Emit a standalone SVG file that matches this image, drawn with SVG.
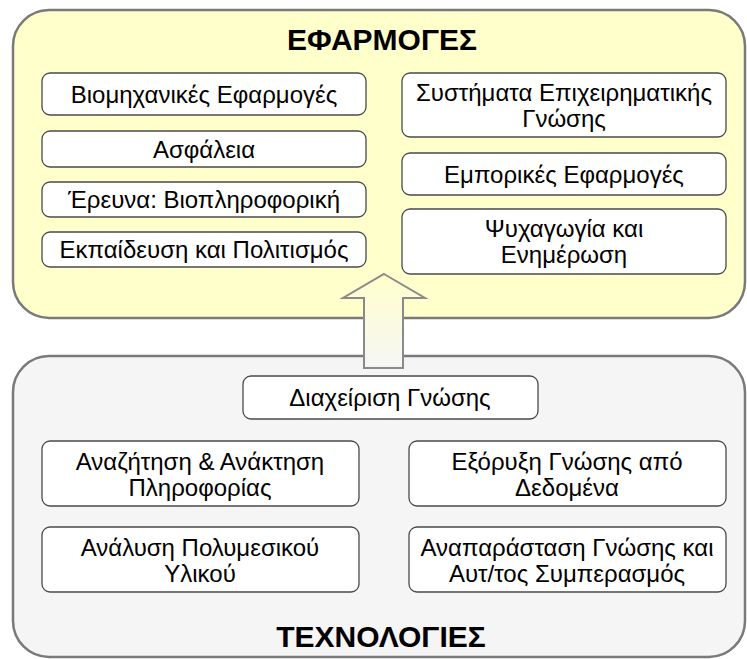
<svg xmlns="http://www.w3.org/2000/svg" width="747" height="659" viewBox="0 0 747 659">
<defs>
<linearGradient id="arrowGrad" x1="0" y1="0" x2="0" y2="1">
<stop offset="0" stop-color="#FFFFCC"/>
<stop offset="1" stop-color="#F6F6F6"/>
</linearGradient>
<style>
.cont-top{fill:#FFFFCC;stroke:#7a7a7a;stroke-width:2.5}
.cont-bot{fill:#F5F5F5;stroke:#7a7a7a;stroke-width:2.5}
.box{fill:#FFFFFF;stroke:#4a4a4a;stroke-width:1.3}
.t{font-family:"Liberation Sans",Arial,sans-serif;font-size:24px;fill:#000000;text-anchor:middle}
.title{font-family:"Liberation Sans",Arial,sans-serif;font-size:30px;font-weight:bold;fill:#000000;text-anchor:middle}
.arrow{fill:url(#arrowGrad);stroke:#8a8a8a;stroke-width:2}
</style>
</defs>
<rect width="747" height="659" fill="#FFFFFF"/>
<g id="applications">
<rect class="cont-top" x="13" y="10" width="732" height="308" rx="36" ry="36"/>
<text class="title" x="382" y="50">ΕΦΑΡΜΟΓΕΣ</text>
</g>
<g id="technologies">
<rect class="cont-bot" x="13" y="356" width="732" height="301" rx="36" ry="36"/>
<text class="title" x="381" y="647">ΤΕΧΝΟΛΟΓΙΕΣ</text>
</g>
<g id="connectors">
<polygon class="arrow" points="384,274 425,298 403,298 403,368 364,368 364,298 343,298"/>
</g>
<g id="n-industrial">
<rect class="box" x="42" y="73" width="324" height="42" rx="8"/>
<text class="t" x="204" y="103">Βιομηχανικές Εφαρμογές</text>
</g>
<g id="n-security">
<rect class="box" x="42" y="131" width="324" height="36" rx="8"/>
<text class="t" x="204" y="157.5">Ασφάλεια</text>
</g>
<g id="n-research">
<rect class="box" x="42" y="182" width="324" height="35" rx="8"/>
<text class="t" x="204" y="208">Έρευνα: Βιοπληροφορική</text>
</g>
<g id="n-education">
<rect class="box" x="42" y="232" width="324" height="35" rx="8"/>
<text class="t" x="204" y="258">Εκπαίδευση και Πολιτισμός</text>
</g>
<g id="n-bi">
<rect class="box" x="402" y="73" width="324" height="64" rx="8"/>
<text class="t" x="564" y="101">Συστήματα Επιχειρηματικής</text>
<text class="t" x="564" y="127">Γνώσης</text>
</g>
<g id="n-commerce">
<rect class="box" x="402" y="153" width="324" height="42" rx="8"/>
<text class="t" x="564" y="182.5">Εμπορικές Εφαρμογές</text>
</g>
<g id="n-entertainment">
<rect class="box" x="402" y="209" width="324" height="65" rx="8"/>
<text class="t" x="564" y="237">Ψυχαγωγία και</text>
<text class="t" x="564" y="263">Ενημέρωση</text>
</g>
<g id="n-km">
<rect class="box" x="243" y="376" width="295" height="43" rx="8"/>
<text class="t" x="390" y="406">Διαχείριση Γνώσης</text>
</g>
<g id="n-ir">
<rect class="box" x="42" y="441" width="317" height="65" rx="8"/>
<text class="t" x="200" y="470">Αναζήτηση &amp; Ανάκτηση</text>
<text class="t" x="200" y="496">Πληροφορίας</text>
</g>
<g id="n-multimedia">
<rect class="box" x="42" y="527" width="317" height="65" rx="8"/>
<text class="t" x="200" y="556">Ανάλυση Πολυμεσικού</text>
<text class="t" x="200" y="582">Υλικού</text>
</g>
<g id="n-mining">
<rect class="box" x="409" y="441" width="317" height="65" rx="8"/>
<text class="t" x="567" y="470">Εξόρυξη Γνώσης από</text>
<text class="t" x="567" y="496">Δεδομένα</text>
</g>
<g id="n-reasoning">
<rect class="box" x="409" y="527" width="317" height="65" rx="8"/>
<text class="t" x="567" y="556">Αναπαράσταση Γνώσης και</text>
<text class="t" x="567" y="582">Αυτ/τος Συμπερασμός</text>
</g>
</svg>
